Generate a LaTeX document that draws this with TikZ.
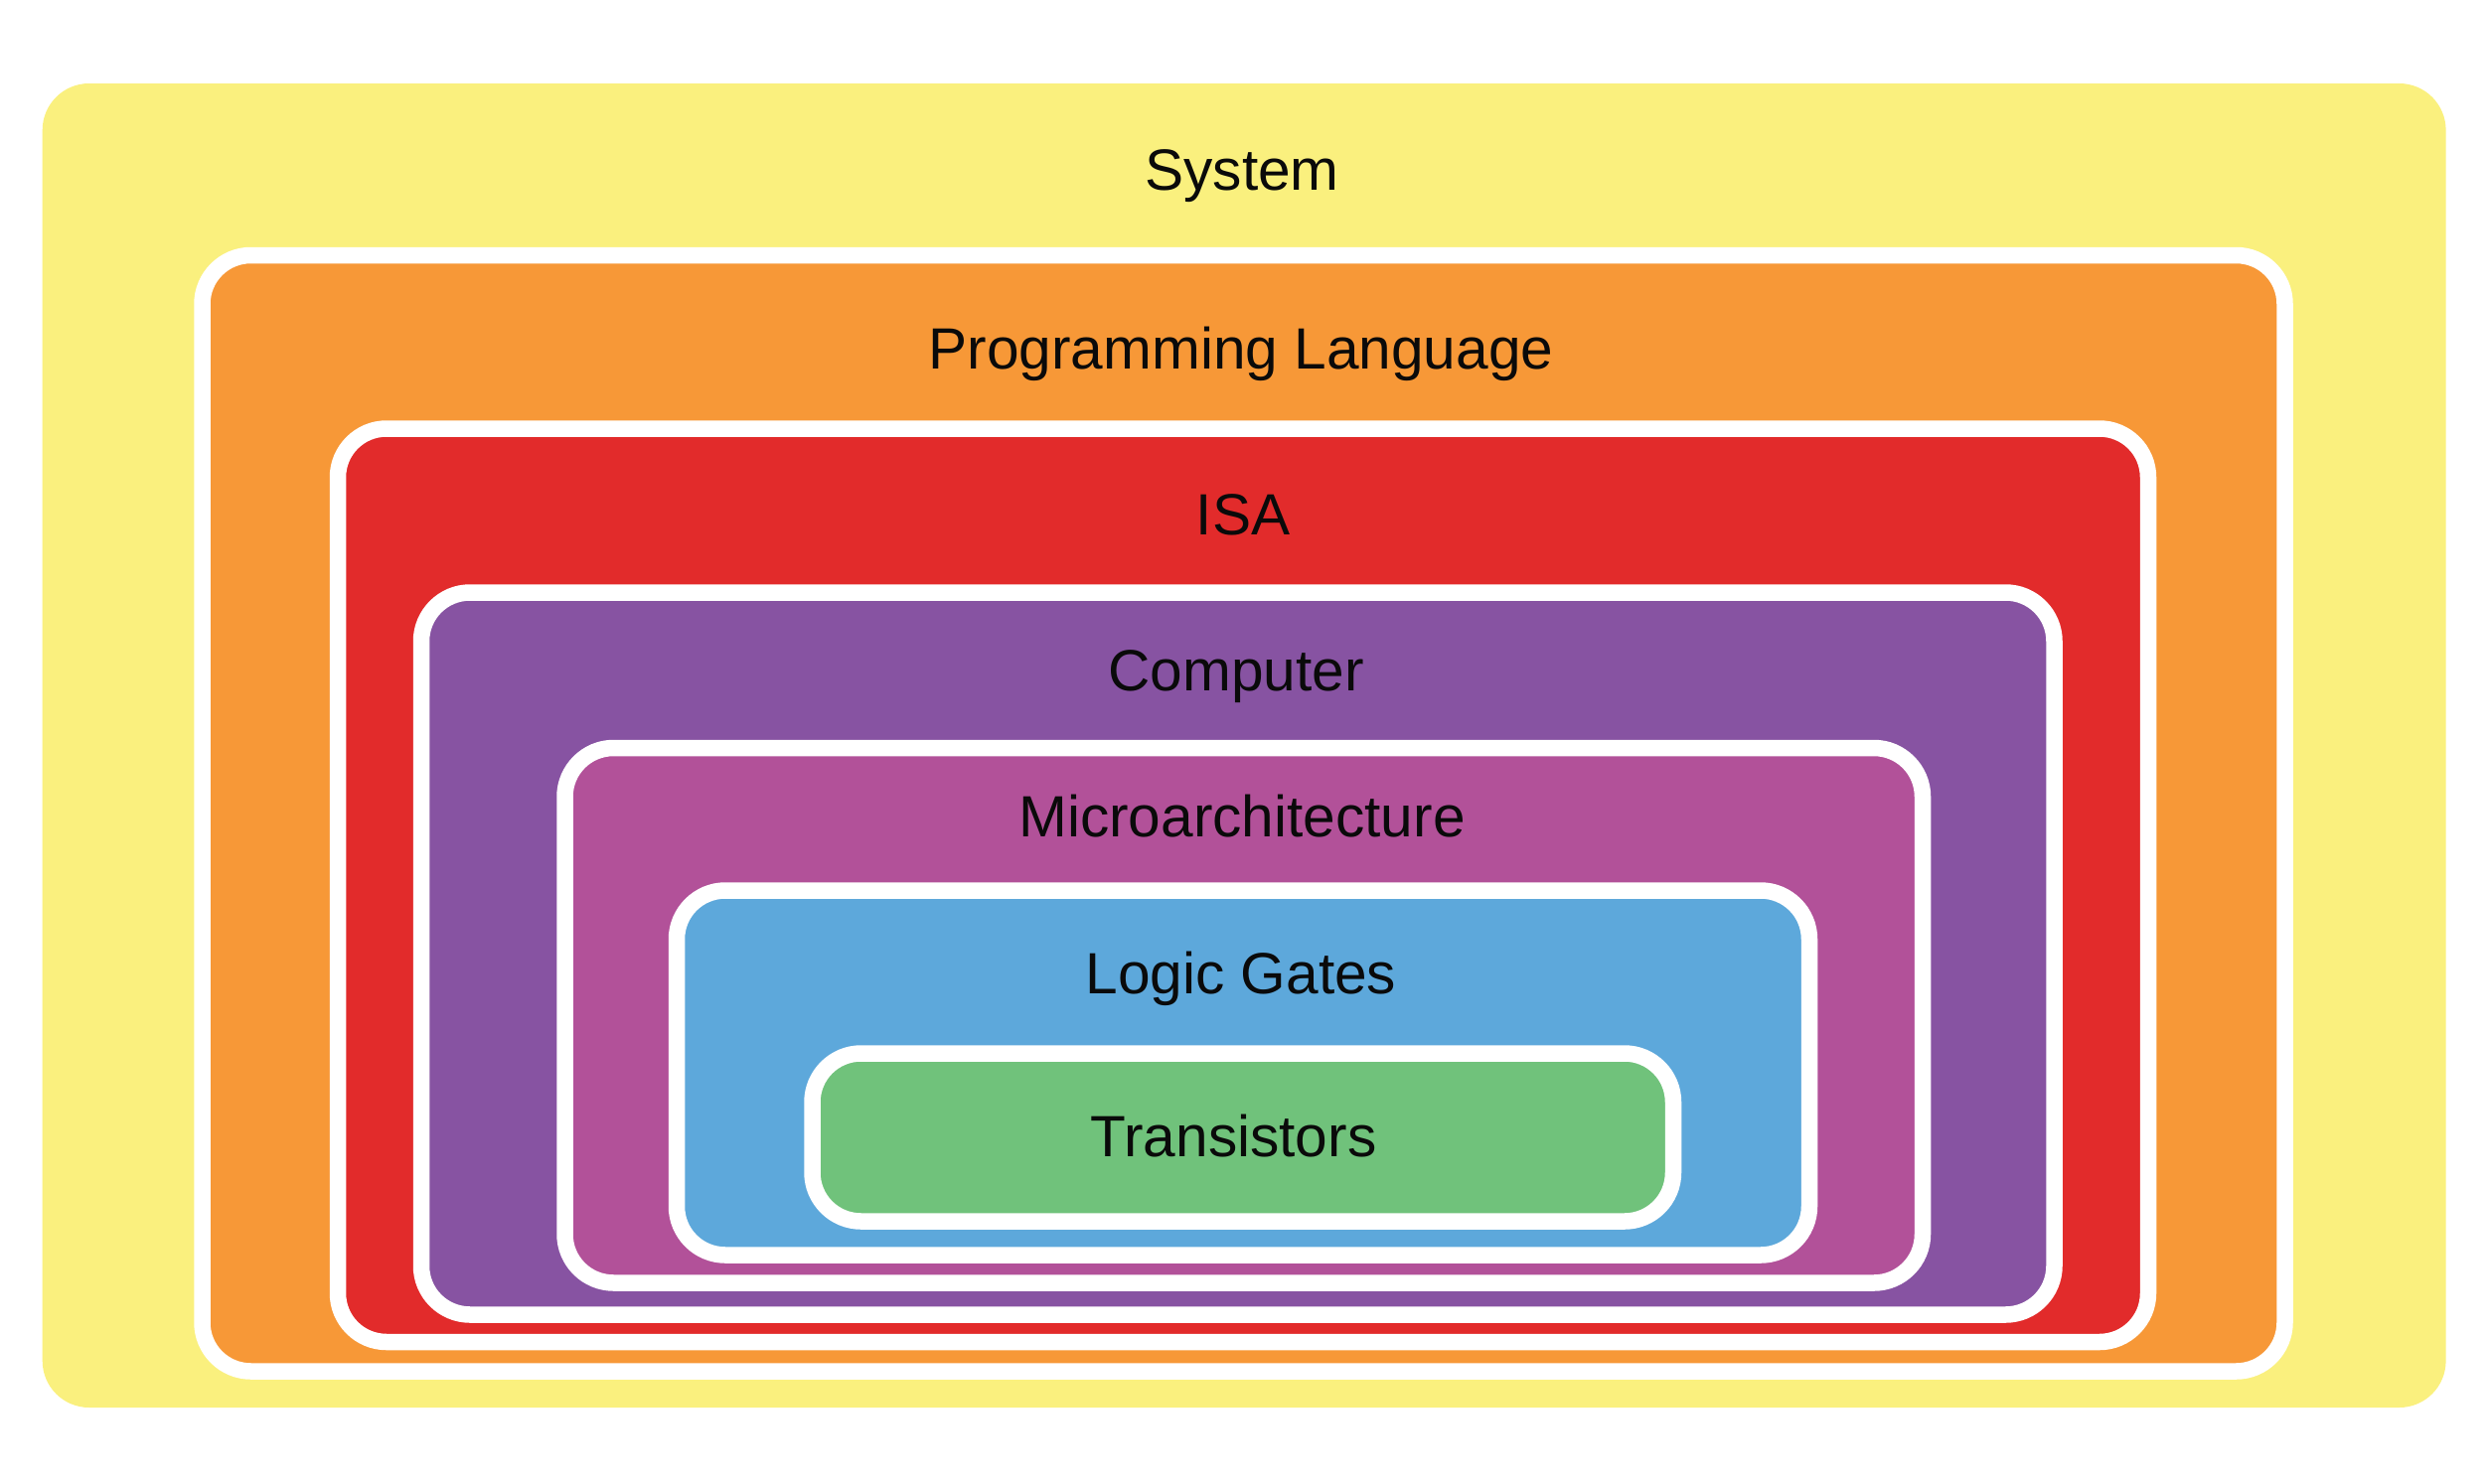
\documentclass[tikz,border=0pt]{standalone}
\usepackage{fontspec}
\setmainfont{Liberation Sans}
\definecolor{sysyellow}{HTML}{FAF07E}
\definecolor{langorange}{HTML}{F79837}
\definecolor{isared}{HTML}{E22B2B}
\definecolor{comppurple}{HTML}{8753A2}
\definecolor{micromagenta}{HTML}{B25199}
\definecolor{gateblue}{HTML}{5DA8DB}
\definecolor{transgreen}{HTML}{70C27B}
\definecolor{labelink}{HTML}{0A0A0A}
\begin{document}
\begin{tikzpicture}[x=1pt,y=-1pt,
  layer/.style={draw=white,line width=16.5pt,rounded corners=49pt},
  outerlayer/.style={rounded corners=47pt},
  caption/.style={anchor=base,inner sep=0pt,text=labelink,font=\fontsize{58.6}{70}\selectfont}]
  \useasboundingbox (0,0) rectangle (2504,1494);
  % nested abstraction layers, outermost first
  \fill[sysyellow,outerlayer] (42.7,84) rectangle (2461.6,1417);
  \path[layer,fill=langorange]   (203.5,257)  rectangle (2299.5,1380.5);
  \path[layer,fill=isared]       (340,431.5)  rectangle (2162,1351);
  \path[layer,fill=comppurple]   (424,596.5)  rectangle (2067.5,1323.5);
  \path[layer,fill=micromagenta] (568.5,753)  rectangle (1935,1291.5);
  \path[layer,fill=gateblue]     (681,896.5)  rectangle (1821,1263.5);
  \path[layer,fill=transgreen]   (817.5,1060.5) rectangle (1684,1229.5);
  % layer names
  \node[caption] (system)   at (1250,191)  {System};
  \node[caption] (language) at (1249,371)  {Programming Language};
  \node[caption] (isa)      at (1251,538)  {ISA};
  \node[caption] (computer) at (1244,695)  {Computer};
  \node[caption] (micro)    at (1250,842)  {Microarchitecture};
  \node[caption] (gates)    at (1249,1000) {Logic Gates};
  \node[caption] (trans)    at (1241.5,1164) {Transistors};
\end{tikzpicture}
\end{document}
